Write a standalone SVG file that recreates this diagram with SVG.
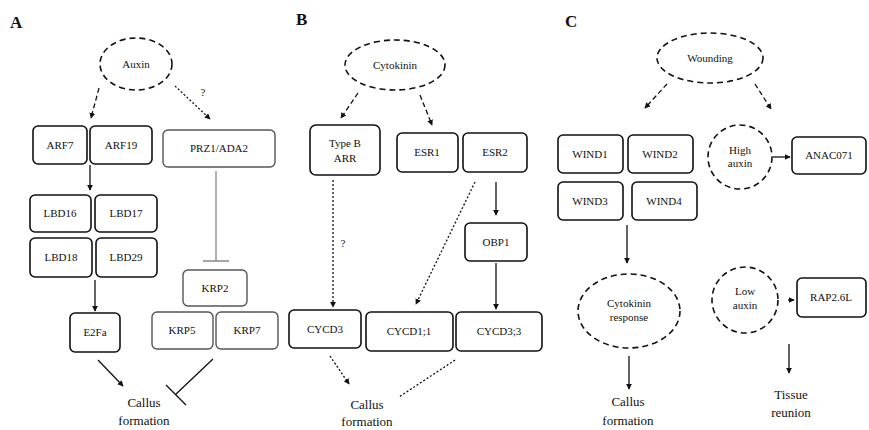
<svg xmlns="http://www.w3.org/2000/svg" width="869" height="430" viewBox="0 0 869 430">
<defs>
<style>
text{font-family:"Liberation Serif","Times New Roman",serif;fill:#111;text-anchor:middle}
.lbl{font-size:11px}
.big{font-size:13px}
.pl{font-size:17px;font-weight:bold;text-anchor:start}
.box{fill:#fff;stroke:#111;stroke-width:1.6}
.brk{fill:#fff;stroke:#555;stroke-width:1.4}
.ell{fill:#fff;stroke:#111;stroke-width:1.6;stroke-dasharray:6 4}
.c{fill:none;stroke:#111;stroke-width:1.3}
.dash{stroke-dasharray:5 3}
.dot{stroke-dasharray:2 2}
.gray{stroke:#888}
</style>
<marker id="ah" viewBox="0 0 8 8" refX="7" refY="4" markerWidth="4.5" markerHeight="4.5" orient="auto">
<path d="M0,0 L8,4 L0,8 z" fill="#111"/>
</marker>
</defs>
<rect width="869" height="430" fill="#fff"/>
<text class="pl" x="10" y="28">A</text>
<text class="pl" x="296" y="25">B</text>
<text class="pl" x="565" y="27">C</text>

<g id="connectors">
<path class="c dash" d="M99,88 L91,118" marker-end="url(#ah)"/>
<path class="c dot" d="M175,86 L210,119" marker-end="url(#ah)"/>
<text class="lbl" x="203" y="96">?</text>
<path class="c" d="M90,165 L90,190" marker-end="url(#ah)"/>
<path class="c" d="M95,280 L95,311" marker-end="url(#ah)"/>
<path class="c gray" d="M216,171 L216,261 M203,261 L229,261"/>
<path class="c" d="M98,360 L123,386" marker-end="url(#ah)"/>
<path class="c" d="M213,359 L176,394 M166,385 L186,405"/>
<path class="c dash" d="M358,93 L341,118" marker-end="url(#ah)"/>
<path class="c dash" d="M420,95 L432,125" marker-end="url(#ah)"/>
<path class="c dot" d="M333,180 L333,307" marker-end="url(#ah)"/>
<text class="lbl" x="343" y="247">?</text>
<path class="c dot" d="M475,182 L416,304" marker-end="url(#ah)"/>
<path class="c" d="M496,182 L496,215" marker-end="url(#ah)"/>
<path class="c" d="M496,263 L496,309" marker-end="url(#ah)"/>
<path class="c dot" d="M330,356 L349,384" marker-end="url(#ah)"/>
<path class="c dot" d="M455,360 L399,397"/>
<path class="c dash" d="M667,84 L645,108" marker-end="url(#ah)"/>
<path class="c dash" d="M755,84 L771,109" marker-end="url(#ah)"/>
<path class="c" d="M773,157 L790,157" marker-end="url(#ah)"/>
<path class="c" d="M627,225 L627,263" marker-end="url(#ah)"/>
<path class="c" d="M629,356 L629,389" marker-end="url(#ah)"/>
<path class="c" d="M788,300 L794,300" marker-end="url(#ah)"/>
<path class="c" d="M789,344 L789,373" marker-end="url(#ah)"/>
</g>

<g id="auxin"><ellipse class="ell" cx="136" cy="64" rx="36" ry="26"/><text class="lbl" x="136" y="68">Auxin</text></g>
<g id="arf7"><rect class="box" x="33" y="126" width="54" height="38" rx="5"/><text class="lbl" x="60" y="149">ARF7</text></g>
<g id="arf19"><rect class="box" x="90" y="126" width="62" height="38" rx="5"/><text class="lbl" x="121" y="149">ARF19</text></g>
<g id="prz1"><rect class="brk" x="163" y="130" width="112" height="37" rx="5"/><text class="lbl" x="219" y="152">PRZ1/ADA2</text></g>
<g id="lbd16"><rect class="box" x="30" y="195" width="61" height="37" rx="5"/><text class="lbl" x="60" y="217">LBD16</text></g>
<g id="lbd17"><rect class="box" x="95" y="195" width="62" height="37" rx="5"/><text class="lbl" x="126" y="217">LBD17</text></g>
<g id="lbd18"><rect class="box" x="30" y="238" width="62" height="39" rx="5"/><text class="lbl" x="61" y="261">LBD18</text></g>
<g id="lbd29"><rect class="box" x="96" y="238" width="61" height="39" rx="5"/><text class="lbl" x="126" y="261">LBD29</text></g>
<g id="e2fa"><rect class="box" x="70" y="313" width="50" height="39" rx="5"/><text class="lbl" x="95" y="336">E2Fa</text></g>
<g id="krp2"><rect class="brk" x="183" y="270" width="64" height="36" rx="5"/><text class="lbl" x="215" y="292">KRP2</text></g>
<g id="krp5"><rect class="brk" x="152" y="312" width="61" height="37" rx="5"/><text class="lbl" x="182" y="334">KRP5</text></g>
<g id="krp7"><rect class="brk" x="216" y="312" width="62" height="37" rx="5"/><text class="lbl" x="247" y="334">KRP7</text></g>
<g id="callusA"><text class="big" x="144" y="407">Callus</text><text class="big" x="144" y="425">formation</text></g>

<g id="cytokinin"><ellipse class="ell" cx="395" cy="65" rx="50" ry="25"/><text class="lbl" x="395" y="69">Cytokinin</text></g>
<g id="typeb"><rect class="box" x="310" y="125" width="70" height="50" rx="6"/><text class="lbl" x="345" y="147">Type B</text><text class="lbl" x="345" y="162">ARR</text></g>
<g id="esr1"><rect class="box" x="397" y="133" width="61" height="39" rx="5"/><text class="lbl" x="427" y="156">ESR1</text></g>
<g id="esr2"><rect class="box" x="463" y="133" width="64" height="39" rx="5"/><text class="lbl" x="495" y="156">ESR2</text></g>
<g id="obp1"><rect class="box" x="465" y="223" width="62" height="38" rx="5"/><text class="lbl" x="496" y="246">OBP1</text></g>
<g id="cycd3"><rect class="box" x="289" y="310" width="72" height="38" rx="5"/><text class="lbl" x="325" y="333">CYCD3</text></g>
<g id="cycd11"><rect class="box" x="366" y="312" width="87" height="39" rx="5"/><text class="lbl" x="409" y="335">CYCD1;1</text></g>
<g id="cycd33"><rect class="box" x="456" y="312" width="86" height="39" rx="5"/><text class="lbl" x="499" y="335">CYCD3;3</text></g>
<g id="callusB"><text class="big" x="367" y="409">Callus</text><text class="big" x="367" y="426">formation</text></g>

<g id="wounding"><ellipse class="ell" cx="710" cy="58" rx="53" ry="25"/><text class="lbl" x="710" y="62">Wounding</text></g>
<g id="wind1"><rect class="box" x="558" y="135" width="65" height="38" rx="5"/><text class="lbl" x="590" y="158">WIND1</text></g>
<g id="wind2"><rect class="box" x="628" y="135" width="65" height="38" rx="5"/><text class="lbl" x="660" y="158">WIND2</text></g>
<g id="wind3"><rect class="box" x="558" y="182" width="65" height="38" rx="5"/><text class="lbl" x="590" y="205">WIND3</text></g>
<g id="wind4"><rect class="box" x="632" y="182" width="65" height="38" rx="5"/><text class="lbl" x="664" y="205">WIND4</text></g>
<g id="highauxin"><circle class="ell" cx="740" cy="157" r="32"/><text class="lbl" x="740" y="154">High</text><text class="lbl" x="740" y="167">auxin</text></g>
<g id="anac071"><rect class="box" x="792" y="137" width="74" height="37" rx="5"/><text class="lbl" x="829" y="159">ANAC071</text></g>
<g id="cytresp"><ellipse class="ell" cx="629" cy="311" rx="51" ry="37"/><text class="lbl" x="629" y="307">Cytokinin</text><text class="lbl" x="629" y="321">response</text></g>
<g id="callusC"><text class="big" x="628" y="406">Callus</text><text class="big" x="628" y="425">formation</text></g>
<g id="lowauxin"><circle class="ell" cx="745" cy="300" r="33"/><text class="lbl" x="745" y="295">Low</text><text class="lbl" x="745" y="309">auxin</text></g>
<g id="rap26l"><rect class="box" x="797" y="278" width="69" height="39" rx="5"/><text class="lbl" x="831" y="301">RAP2.6L</text></g>
<g id="tissue"><text class="big" x="791" y="399">Tissue</text><text class="big" x="791" y="417">reunion</text></g>
</svg>
